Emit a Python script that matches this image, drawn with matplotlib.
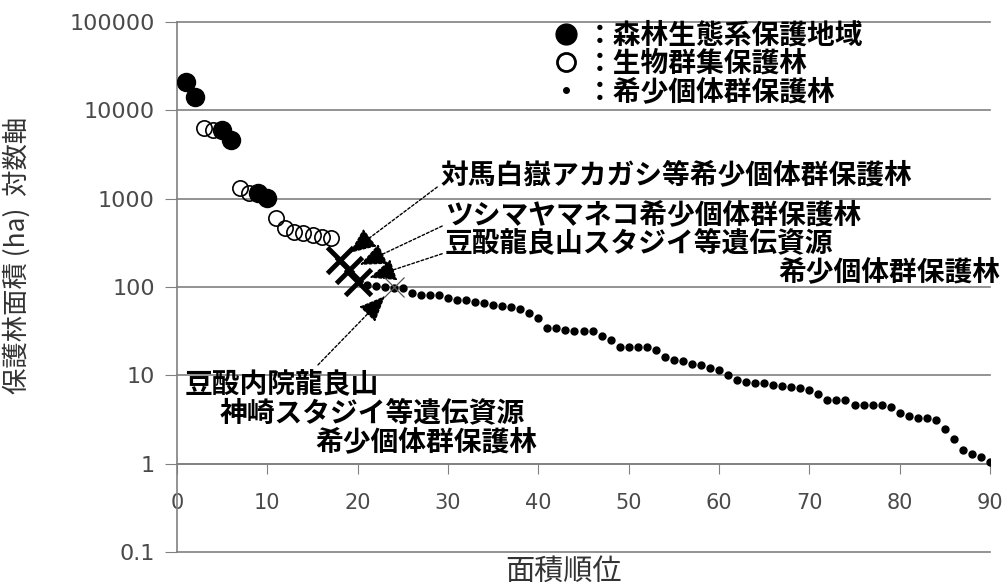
import matplotlib
matplotlib.use('Agg')
import matplotlib.pyplot as plt
from matplotlib.lines import Line2D

plt.rcParams['font.family'] = ['Noto Sans CJK JP', 'DejaVu Sans']

# 森林生態系保護地域 (filled circles)
rank_forest = [1, 2, 5, 6, 9, 10]
area_forest = [21000, 14000, 6000, 4600, 1150, 1020]

# 生物群集保護林 (open circles)
rank_bio = [3, 4, 7, 8, 11, 12, 13, 14, 15, 16, 17]
area_bio = [6300, 6000, 1320, 1150, 600, 465, 420, 408, 387, 367, 358]

# 希少個体群保護林 (small dots), ranks 21-90
rank_rare = list(range(21, 91))
area_rare = [105, 103, 100, 98, 98, 86, 81, 81, 81, 75,
             72, 71, 68, 66, 62, 61, 59, 57, 51, 45,
             34, 34, 33, 32, 32, 32, 28, 25, 21, 21,
             21, 21, 19.5, 16, 15, 14.5, 13.6, 13.1, 12.0, 11.5,
             10.0, 8.8, 8.4, 8.2, 8.2, 7.7, 7.5, 7.4, 7.1, 6.9,
             6.2, 5.2, 5.2, 5.2, 4.6, 4.6, 4.6, 4.6, 4.4, 3.7,
             3.5, 3.3, 3.25, 3.1, 2.5, 1.9, 1.42, 1.30, 1.19, 1.05]

# named forests marked with a cross
rank_named = [18, 19, 20]
area_named = [200, 155, 115]
named_labels = ['対馬白嶽アカガシ等希少個体群保護林',
                'ツシマヤマネコ希少個体群保護林',
                '豆酘龍良山スタジイ等遺伝資源']
rank_thin = [24]
area_thin = [100]

legend_labels = ['：森林生態系保護地域', '：生物群集保護林', '：希少個体群保護林']
decades = [0.1, 1, 10, 100, 1000, 10000, 100000]
decade_labels = ['0.1', '1', '10', '100', '1000', '10000', '100000']
x_ticks = list(range(0, 91, 10))

GRID = '#808080'
TICK_TEXT = '#4a4a4a'


def main():
    fig = plt.figure(figsize=(10.08, 5.87), dpi=100)
    ax = fig.add_axes([177 / 1008, 35 / 587, 813 / 1008, 530 / 587])
    ax.set_yscale('log')
    ax.set_ylim(0.1, 100000)
    ax.set_xlim(0, 90)

    for v in decades:
        ax.axhline(v, color=GRID, lw=1.2, zorder=0, clip_on=False)

    ax.spines['top'].set_visible(False)
    ax.spines['right'].set_visible(False)
    ax.spines['left'].set_color(GRID)
    ax.spines['left'].set_linewidth(1.2)
    ax.spines['bottom'].set_position(('data', 1))
    ax.spines['bottom'].set_color(GRID)
    ax.spines['bottom'].set_linewidth(1.2)

    ax.set_yticks(decades)
    ax.set_yticklabels(decade_labels)
    ax.minorticks_off()
    ax.set_xticks(x_ticks)
    ax.tick_params(axis='y', length=9, color=GRID, pad=7, labelsize=16,
                   labelcolor=TICK_TEXT)
    ax.tick_params(axis='x', length=7, color=GRID, pad=14, labelsize=15,
                   labelcolor=TICK_TEXT)
    for lbl in ax.get_xticklabels() + ax.get_yticklabels():
        lbl.set_fontfamily('DejaVu Sans')

    ax.plot(rank_rare, area_rare, 'o', color='black', ms=5, ls='none',
            zorder=3)
    ax.plot(rank_bio, area_bio, 'o', mfc='none', mec='black', mew=1.2,
            ms=11, ls='none', zorder=4)
    ax.plot(rank_forest, area_forest, 'o', color='black', ms=13, ls='none',
            zorder=4)
    ax.plot(rank_named, area_named, 'x', color='black', ms=19, mew=3.5,
            ls='none', zorder=5)
    ax.plot(rank_thin, area_thin, 'x', color='#555555', ms=15, mew=0.9,
            ls='none', zorder=5)

    ax.set_ylabel('保護林面積 (ha)  対数軸', fontsize=19, color='#333333')
    ax.yaxis.set_label_coords(-0.1796, 0.56)
    ax.set_xlabel('面積順位', fontsize=21, color='#333333', va='center')
    ax.xaxis.set_label_coords(0.4748, -0.038)

    arrow = dict(arrowstyle='-|>,head_length=0.75,head_width=0.32',
                 color='black', lw=1.0, linestyle=(0, (2, 1.5)),
                 shrinkA=0, shrinkB=9, mutation_scale=22, relpos=(0, 0.15))
    text_kw = dict(fontsize=20, fontweight='bold', color='black')

    # labels for the three crossed forests
    label_pos = [(0.3235, 0.711), (0.3296, 0.636), (0.3296, 0.583)]
    for r, a, lab, pos in zip(rank_named, area_named, named_labels, label_pos):
        ax.annotate(lab, xy=(r, a), xytext=pos, textcoords='axes fraction',
                    ha='left', va='center', arrowprops=arrow, **text_kw)
    ax.text(1.0123, 0.528, '希少個体群保護林', transform=ax.transAxes,
            ha='right', va='center', **text_kw)

    # lower label for the thin cross
    ax.annotate('', xy=(rank_thin[0], area_thin[0]), xytext=(0.1734, 0.353),
                textcoords='axes fraction', arrowprops=arrow)
    ax.text(0.0098, 0.315, '豆酘内院龍良山', transform=ax.transAxes,
            ha='left', va='center', **text_kw)
    ax.text(0.0529, 0.262, '神崎スタジイ等遺伝資源', transform=ax.transAxes,
            ha='left', va='center', **text_kw)
    ax.text(0.1697, 0.2075, '希少個体群保護林', transform=ax.transAxes,
            ha='left', va='center', **text_kw)

    handles = [
        Line2D([], [], marker='o', color='black', ms=15, ls='none'),
        Line2D([], [], marker='o', mfc='none', mec='black', mew=2, ms=13,
               ls='none'),
        Line2D([], [], marker='o', color='black', ms=4, ls='none'),
    ]
    fig.legend(handles, legend_labels, loc='upper left',
               bbox_to_anchor=(552 / 1008, 1 - 22 / 587), frameon=False,
               prop=dict(size=20, weight='bold'), handlelength=1.0,
               handletextpad=0.2, labelspacing=0.0, borderpad=0,
               borderaxespad=0)

    fig.savefig('out.png', dpi=100, facecolor='white')


if __name__ == '__main__':
    main()
